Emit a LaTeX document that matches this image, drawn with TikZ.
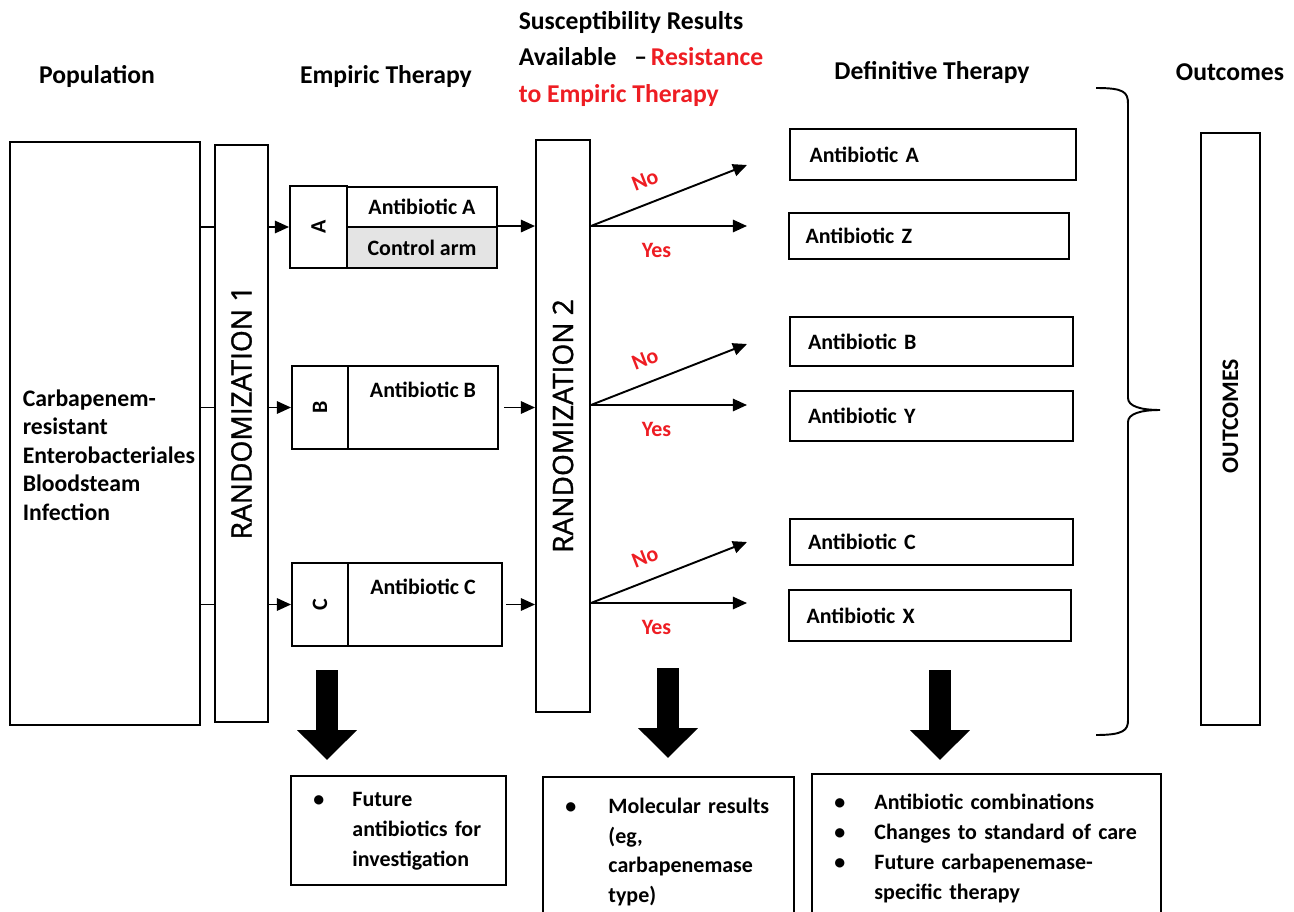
\documentclass[tikz,border=0pt]{standalone}
\usepackage{fontspec}
\usepackage{graphicx}
\setmainfont{Carlito}
\newfontfamily\randfont{Open Sans}[FakeBold=1.2]
\usetikzlibrary{arrows.meta,positioning}
\definecolor{resist}{HTML}{EE1D23}
\definecolor{armfill}{HTML}{E4E4E4}

\begin{document}
\begin{tikzpicture}[x=0.02cm,y=-0.02cm,line width=1.1pt,
  head/.style={font=\fontsize{14.6}{21}\selectfont\bfseries, align=left},
  box/.style={draw, inner sep=0pt},
  txt/.style={font=\fontsize{12.5}{15}\selectfont\bfseries},
  vbox/.style={box, font=\randfont\fontsize{16}{16}\selectfont},
  defbox/.style={box, txt, align=left, text width=4.94cm},
  note/.style={box, anchor=north west, inner xsep=0.45cm, align=left, font=\fontsize{12.5}{17}\selectfont\bfseries},
  arr/.style={-{Triangle[length=8pt,width=7pt]}},
  ans/.style={text=resist, font=\fontsize{12.5}{15}\selectfont\bfseries},
  bigarrow/.style={line width=12.5pt, -{Triangle[length=17pt,width=33pt]}}]
\useasboundingbox (0,0) rectangle (1294,912);
% titulos das colunas
\node[head] (hpop) at (97,77) {Population};
\node[head] (hemp) at (386,77) {Empiric Therapy};
\node[head, anchor=west] (hsus) at (512,59) {Susceptibility Results\\Available\hspace{0.7em}–\hspace{0.15em}\textcolor{resist}{Resistance}\\\textcolor{resist}{to Empiric Therapy}};
\node[head] (hdef) at (932,73) {Definitive Therapy};
\node[head] (hout) at (1230,72) {Outcomes};
% populacao
\node[box, minimum width=3.8cm, minimum height=11.66cm] (pop) at (105,433.5) {};
\node[font=\fontsize{13.5}{16.2}\selectfont\bfseries, align=left, anchor=west] (poptxt) at (16,455) {Carbapenem-\\resistant\\Enterobacteriales\\Bloodsteam\\Infection};
% randomizacoes
\node[vbox, minimum width=1.06cm, minimum height=11.54cm] (rand1) at (241.5,433.5) {\rotatebox{90}{\hspace*{0.84cm}RANDOMIZATION 1}};
\node[vbox, minimum width=1.08cm, minimum height=11.44cm] (rand2) at (563,426) {\rotatebox{90}{RANDOMIZATION 2}};
% bracos empiricos
\node[box, txt, minimum width=1.14cm, minimum height=1.64cm] (tagA) at (318.5,227) {\rotatebox{90}{A}};
\node[box, txt, minimum width=3cm, minimum height=0.8cm] (abA) at (422,207) {Antibiotic A};
\node[box, txt, fill=armfill, minimum width=3cm, minimum height=0.82cm] (ctrl) at (422,247.5) {Control arm};
\node[box, txt, minimum width=1.12cm, minimum height=1.66cm] (tagB) at (320,407.5) {\rotatebox{90}{B}};
\node[box, minimum width=3cm, minimum height=1.66cm] (armB) at (423,407.5) {};
\node[txt] (abB) at (423,390) {Antibiotic B};
\node[box, txt, minimum width=1.12cm, minimum height=1.66cm] (tagC) at (320,604.5) {\rotatebox{90}{C}};
\node[box, minimum width=3.08cm, minimum height=1.66cm] (armC) at (425,604.5) {};
\node[txt] (abC) at (423,587) {Antibiotic C};
% ligacoes
\foreach \t in {tagA,tagB,tagC} {
  \draw (pop.east |- \t) -- (rand1.west |- \t);
  \draw[arr] (rand1.east |- \t) -- (\t);
}
\draw[arr] (ctrl.north east) -- (rand2.west |- ctrl.north east);
\draw[arr] ([xshift=3pt]armB.east) -- (rand2.west |- armB.east);
\draw[arr] ([xshift=2pt]armC.east) -- (rand2.west |- armC.east);
% resistencia: nao / sim
\foreach \b/\y in {A/226,B/405,C/603} {
  \coordinate (br\b) at (rand2.east |- 0,\y);
  \coordinate (no\b) at (747,\y-61);
  \coordinate (yes\b) at (747,\y);
  \draw[arr] (br\b) -- (no\b) node[ans, pos=0.4, above=5pt, sloped] {No};
  \draw[arr] (br\b) -- (yes\b) node[ans, pos=0.42, below=6pt] {Yes};
}
% terapia definitiva
\foreach \n/\x/\y/\w/\h in {A/933/154.5/5.72/1.02, Z/929/236/5.6/0.92, B/931.5/341.5/5.66/0.98, Y/931.5/416/5.66/1.0, C/931.5/542/5.66/0.92, X/930/615.5/5.64/1.02}
  \node[defbox, minimum width=\w cm, minimum height=\h cm] (def\n) at (\x,\y) {Antibiotic \n};
% chave e desfechos
\draw (1096,88) .. controls (1124,88) and (1128,92) .. (1128,104) -- (1128,398)
  .. controls (1128,406) and (1140,410) .. (1160,410)
  .. controls (1140,410) and (1128,414) .. (1128,422) -- (1128,720)
  .. controls (1128,730) and (1124,735) .. (1096,735);
\node[box, font=\fontsize{13.5}{15}\selectfont\bfseries, minimum width=1.18cm, minimum height=11.84cm] (outc) at (1230.5,429) {\rotatebox{90}{\hspace*{0.52cm}OUTCOMES}};
% setas grandes
\foreach \x/\t in {327/670,668/668,940/670} \draw[bigarrow] (\x,\t) -- ++(0,90);
% caixas de baixo
\node[note, text width=3.4cm, minimum height=2.18cm] (fut) at (290,775) {\begin{tabular}{@{}p{0.78cm}@{}l@{}}\textbullet & Future\\ & antibiotics for\\ & investigation\end{tabular}};
\node[note, text width=4.12cm, minimum height=3cm] (mol) at (542,776) {\begin{tabular}{@{}p{0.86cm}@{}l@{}}\textbullet & Molecular results\\ & (eg,\\ & carbapenemase\\ & type)\end{tabular}};
\node[note, text width=6.08cm, minimum height=2.98cm] (comb) at (811,773) {\begin{tabular}{@{}p{0.8cm}@{}l@{}}\textbullet & Antibiotic combinations\\ \textbullet & Changes to standard of care\\ \textbullet & Future carbapenemase-\\ & specific therapy\end{tabular}};
\end{tikzpicture}
\end{document}
